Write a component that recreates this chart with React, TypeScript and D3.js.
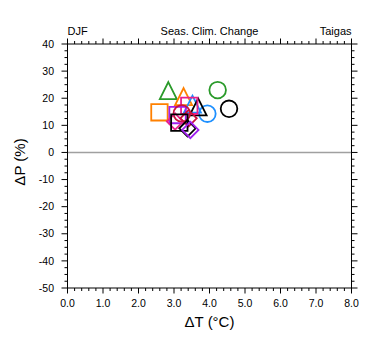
import React from "react";
import * as d3 from "d3";

const xTicks = [0, 1, 2, 3, 4, 5, 6, 7, 8];
const yTicks = [-50, -40, -30, -20, -10, 0, 10, 20, 30, 40];
const markerX = [2.84, 4.23, 3.27, 2.59, 3.94, 3.52, 4.55, 3.68, 3.43, 3.10, 3.22, 3.03, 3.41, 3.15, 3.38, 3.46];
const markerY = [22.8, 23.0, 20.6, 14.8, 14.3, 17.8, 16.1, 16.8, 17.2, 13.8, 14.4, 11.4, 12.6, 11.0, 8.9, 8.3];
const markerShape = ["triangle", "circle", "triangle", "square", "circle", "triangle", "circle", "triangle", "square", "square", "circle", "diamond", "diamond", "square", "diamond", "diamond"];
const markerColor = ["#2a9a2a", "#2a9a2a", "#ff8000", "#ff8000", "#1e90ff", "#1e90ff", "#000000", "#000000", "#e8208c", "#a020f0", "#c8143c", "#e8208c", "#c8143c", "#000000", "#000000", "#a020f0"];

const W = 380, H = 355;
const L = 67.5, R = 351.5, T = 44, B = 288;
const font = "'Liberation Sans', Arial, Helvetica, sans-serif";

function markerPath(shape: string, cx: number, cy: number): string {
  if (shape === "circle") {
    const r = 8.3;
    return `M${cx - r},${cy}a${r},${r} 0 1,0 ${2 * r},0a${r},${r} 0 1,0 ${-2 * r},0Z`;
  }
  if (shape === "square") {
    const h = 8.2;
    return `M${cx - h},${cy - h}H${cx + h}V${cy + h}H${cx - h}Z`;
  }
  if (shape === "triangle") {
    const h = 8.5;
    return `M${cx},${cy - h}L${cx + h},${cy + h}L${cx - h},${cy + h}Z`;
  }
  const d = 8.2;
  return `M${cx},${cy - d}L${cx + d},${cy}L${cx},${cy + d}L${cx - d},${cy}Z`;
}

export default function App() {
  const x = d3.scaleLinear().domain([0, 8]).range([L, R]);
  const y = d3.scaleLinear().domain([-50, 40]).range([B, T]);
  const xMinor = d3.range(0, 8.0001, 0.2);
  const yMinor = d3.range(-50, 40.0001, 2.5);
  const isMajorX = (v: number) => Math.abs(v - Math.round(v)) < 1e-6;
  const isMajorY = (v: number) => Math.abs(v / 10 - Math.round(v / 10)) < 1e-6;

  return (
    <svg width={W} height={H} style={{ display: "block", position: "absolute", left: 0, top: 0 }}>
      <rect x={0} y={0} width={W} height={H} fill="#fff" />
      {/* zero line */}
      <line x1={L} x2={R} y1={y(0)} y2={y(0)} stroke="#a0a0a0" strokeWidth={1.5} />
      {/* markers */}
      {markerX.map((v, i) => (
        <path key={i} d={markerPath(markerShape[i], x(v), y(markerY[i]))} fill="none" stroke={markerColor[i]} strokeWidth={1.8} />
      ))}
      {/* frame */}
      <rect x={L} y={T} width={R - L} height={B - T} fill="none" stroke="#000" strokeWidth={1} />
      {/* x ticks */}
      {xMinor.map((v, i) => {
        const len = isMajorX(v) ? 5.5 : 3;
        return (
          <g key={"xt" + i} stroke="#000" strokeWidth={1}>
            <line x1={x(v)} x2={x(v)} y1={B} y2={B + len} />
            <line x1={x(v)} x2={x(v)} y1={T} y2={T - len} />
          </g>
        );
      })}
      {yMinor.map((v, i) => {
        const len = isMajorY(v) ? 6 : 3;
        return (
          <g key={"yt" + i} stroke="#000" strokeWidth={1}>
            <line x1={L} x2={L - len} y1={y(v)} y2={y(v)} />
            <line x1={R} x2={R + len} y1={y(v)} y2={y(v)} />
          </g>
        );
      })}
      {xTicks.map((v) => (
        <text key={"xl" + v} x={x(v)} y={307} textAnchor="middle" fontFamily={font} fontSize={10.5} fill="#000">
          {v.toFixed(1)}
        </text>
      ))}
      {yTicks.map((v) => (
        <text key={"yl" + v} x={54} y={y(v)} dy="0.35em" textAnchor="end" fontFamily={font} fontSize={10.5} fill="#000">
          {v}
        </text>
      ))}
      <text x={(L + R) / 2} y={327} textAnchor="middle" fontFamily={font} fontSize={15} fill="#000">
        ΔT (°C)
      </text>
      <text transform={`translate(25,${(T + B) / 2 - 4}) rotate(-90)`} textAnchor="middle" fontFamily={font} fontSize={15} fill="#000">
        ΔP (%)
      </text>
      <text x={L} y={35} textAnchor="start" fontFamily={font} fontSize={11} fill="#000">DJF</text>
      <text x={209.5} y={35} textAnchor="middle" fontFamily={font} fontSize={11} fill="#000">Seas. Clim. Change</text>
      <text x={R} y={35} textAnchor="end" fontFamily={font} fontSize={11} fill="#000">Taigas</text>
    </svg>
  );
}
